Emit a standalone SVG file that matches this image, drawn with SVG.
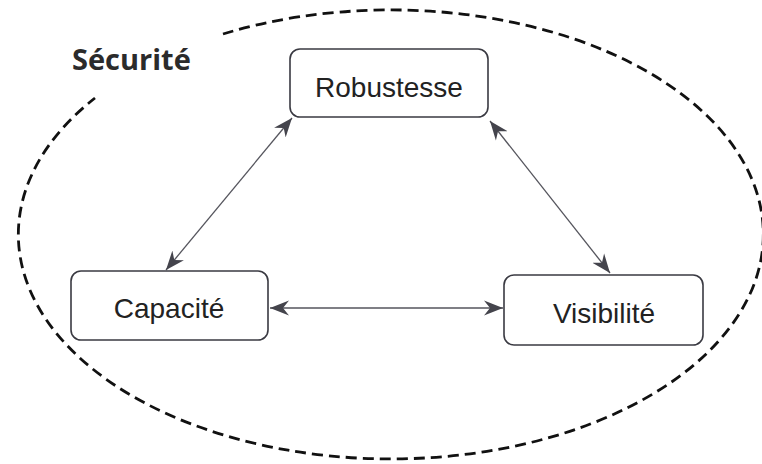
<svg xmlns="http://www.w3.org/2000/svg" width="762" height="464" viewBox="0 0 762 464">
  <style>
    .box { fill: #ffffff; stroke: #3a3a42; stroke-width: 1.6; }
    .lbl { font-family: "Liberation Sans", Arial, sans-serif; font-size: 28px; fill: #222222; text-anchor: middle; }
    .title { font-family: "Open Sans", "Liberation Sans", sans-serif; font-weight: bold; font-size: 29px; fill: #2b2b2b; }
    .link { stroke: #55555d; stroke-width: 1.3; fill: none; marker-start: url(#head); marker-end: url(#head); }
    .zone { fill: none; stroke: #111111; stroke-width: 2.8; stroke-dasharray: 11 6; }
  </style>
  <defs>
    <marker id="head" viewBox="-19 -8 20 16" refX="0" refY="0" markerWidth="20" markerHeight="16" markerUnits="userSpaceOnUse" orient="auto-start-reverse">
      <path d="M0,0 L-19,-7.5 L-13,0 L-19,7.5 Z" fill="#44444c"/>
    </marker>
  </defs>

  <!-- dashed boundary, open where the title sits -->
  <g id="securite">
    <path class="zone" d="M223,34 A372.5 224.5 0 1 1 95,98"/>
    <text class="title" x="72" y="70">Sécurité</text>
  </g>

  <g id="connectors">
    <line class="link" x1="292" y1="118" x2="166" y2="270"/>
    <line class="link" x1="490" y1="121" x2="610" y2="273"/>
    <line class="link" x1="270" y1="308" x2="503" y2="308"/>
  </g>

  <g id="robustesse">
    <rect class="box" x="290" y="49" width="198" height="68" rx="10"/>
    <text class="lbl" x="389" y="97">Robustesse</text>
  </g>

  <g id="capacite">
    <rect class="box" x="71" y="271" width="197" height="69" rx="10"/>
    <text class="lbl" x="169" y="318">Capacité</text>
  </g>

  <g id="visibilite">
    <rect class="box" x="504" y="275" width="199" height="70" rx="10"/>
    <text class="lbl" x="604" y="323">Visibilité</text>
  </g>
</svg>
